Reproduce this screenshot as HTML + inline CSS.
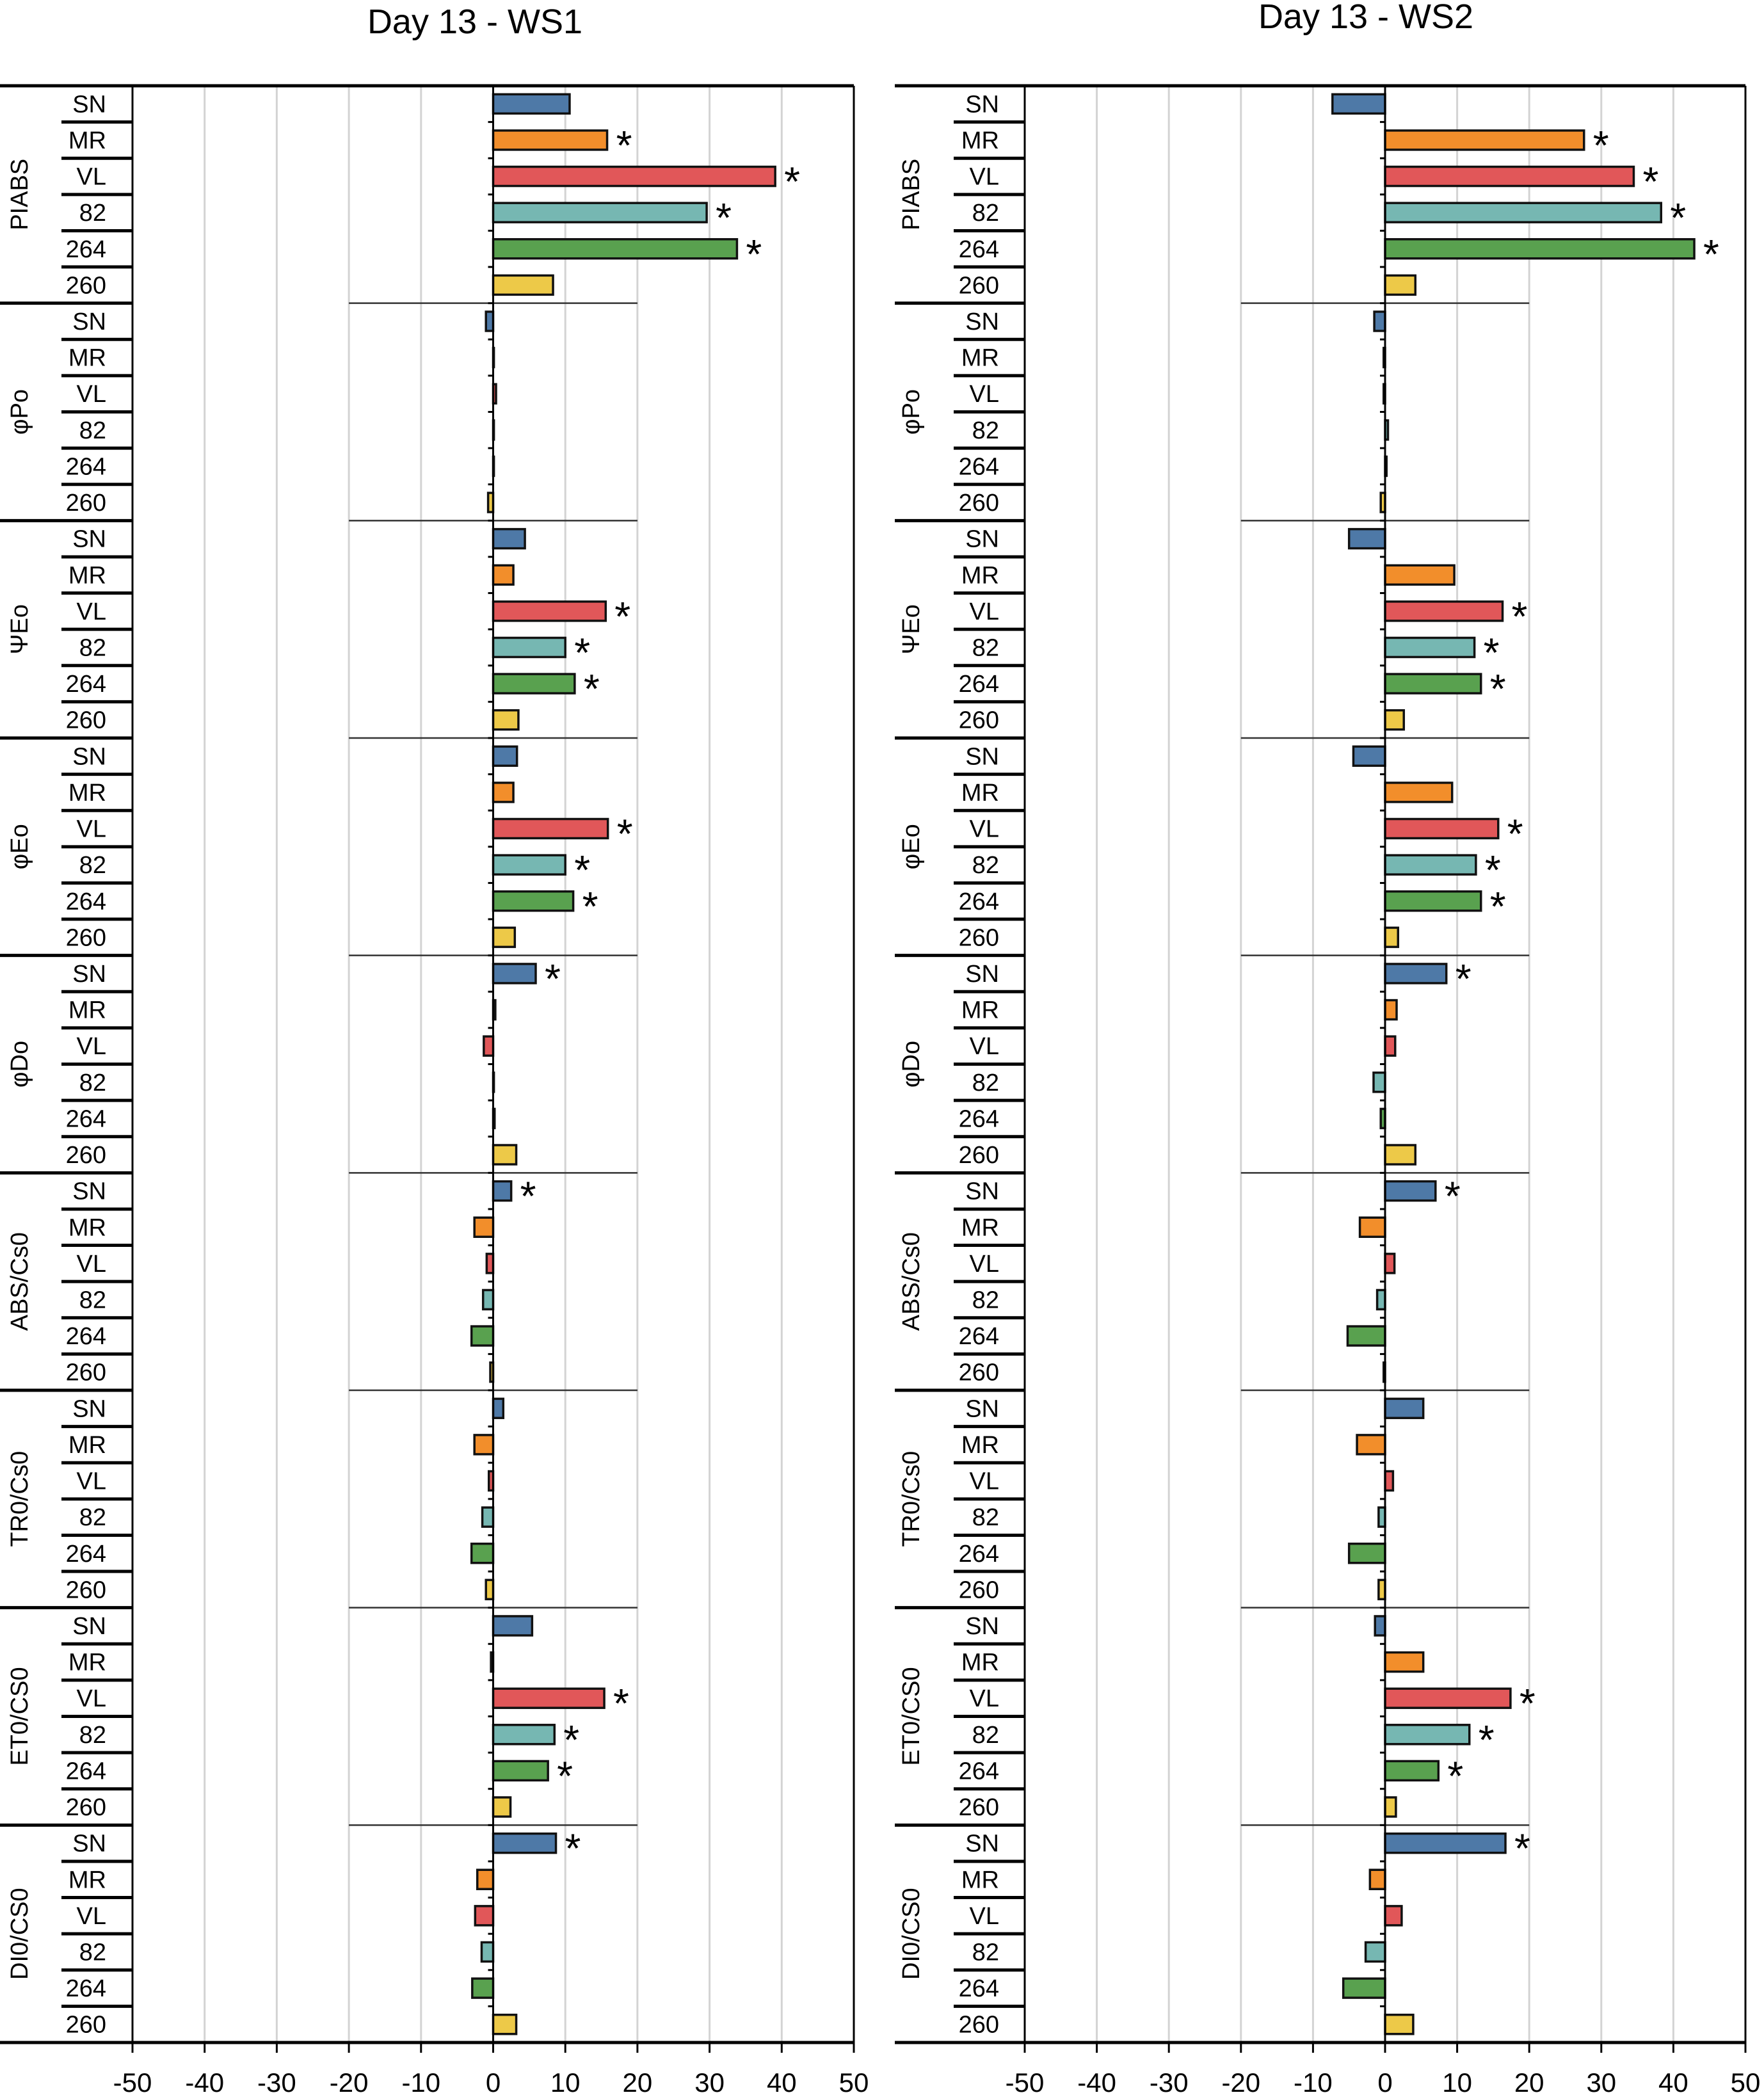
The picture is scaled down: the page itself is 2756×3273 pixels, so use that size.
<!DOCTYPE html>
<html><head><meta charset="utf-8">
<style>
html,body{margin:0;padding:0;background:#fff;}
svg{display:block;font-family:"Liberation Sans",Arial,sans-serif;}
</style></head>
<body>
<svg id="chart" width="2756" height="3273" viewBox="0 0 2756 3273" xmlns="http://www.w3.org/2000/svg">
<text x="742" y="52" font-size="54" text-anchor="middle">Day 13 - WS1</text>
<text x="2134" y="44" font-size="54" text-anchor="middle">Day 13 - WS2</text>
</svg>
<script>
const groups = ["PIABS","φPo","ΨEo","φEo","φDo","ABS/Cs0","TR0/Cs0","ET0/CS0","DI0/CS0"];
const rows = ["SN","MR","VL","82","264","260"];
const ticks = [-50,-40,-30,-20,-10,0,10,20,30,40,50];
const ws1Values = [
  [10.6,15.8,39.1,29.6,33.8,8.3],
  [-1,0.1,0.4,0.1,0.1,-0.7],
  [4.4,2.8,15.6,10,11.3,3.5],
  [3.3,2.8,15.9,10,11.1,3],
  [5.9,0.3,-1.3,0.1,0.2,3.2],
  [2.5,-2.6,-0.9,-1.4,-3,-0.4],
  [1.4,-2.6,-0.6,-1.5,-3,-1],
  [5.4,-0.3,15.4,8.5,7.6,2.4],
  [8.7,-2.2,-2.5,-1.6,-2.9,3.2]
];
const ws1Sig = [
  [0,1,1,1,1,0],[0,0,0,0,0,0],[0,0,1,1,1,0],[0,0,1,1,1,0],[1,0,0,0,0,0],
  [1,0,0,0,0,0],[0,0,0,0,0,0],[0,0,1,1,1,0],[1,0,0,0,0,0]
];
const ws2Values = [
  [-7.3,27.6,34.5,38.3,42.9,4.2],
  [-1.5,-0.2,-0.2,0.4,0.2,-0.6],
  [-5,9.6,16.3,12.4,13.3,2.6],
  [-4.4,9.3,15.7,12.6,13.3,1.8],
  [8.5,1.6,1.4,-1.6,-0.6,4.2],
  [7,-3.5,1.3,-1.1,-5.2,-0.2],
  [5.3,-3.9,1.1,-0.9,-5,-0.9],
  [-1.4,5.3,17.4,11.7,7.4,1.5],
  [16.7,-2.1,2.3,-2.7,-5.8,3.9]
];
const ws2Sig = [
  [0,1,1,1,1,0],[0,0,0,0,0,0],[0,0,1,1,1,0],[0,0,1,1,1,0],[1,0,0,0,0,0],
  [1,0,0,0,0,0],[0,0,0,0,0,0],[0,0,1,1,1,0],[1,0,0,0,0,0]
];
const colors = ["#4e79a7","#f28e2b","#e15759","#76b7b2","#59a14f","#edc948"];

const NS="http://www.w3.org/2000/svg";
const svg=document.getElementById('chart');
const TOP=134, BOT=3191, NROW=groups.length*rows.length, RH=(BOT-TOP)/NROW;
function mk(tag,attrs,parent){const e=document.createElementNS(NS,tag);for(const k in attrs)e.setAttribute(k,attrs[k]);(parent||svg).appendChild(e);return e;}

function panel(p){
  const g=mk('g',{});
  
  
  const x=v=>p.x0+(v+50)/100*(p.x1-p.x0);
  const y=i=>TOP+i*RH;
  ticks.forEach(t=>{ if(t===0||t===-50||t===50) return;
    const l=mk('line',{x1:x(t),x2:x(t),y1:TOP,y2:BOT,stroke:'#d3d3d3','stroke-width':3},g);
    
    
  });
  for(let k=1;k<groups.length;k++){
    const l=mk('line',{x1:x(-20),x2:x(20),y1:y(k*6),y2:y(k*6),stroke:'#333','stroke-width':2.5},g);
    
    
  }
  p.vals.forEach((gv,gi)=>gv.forEach((v,ri)=>{
    const i=gi*6+ri, cy=y(i)+RH/2;
    const xa=x(Math.min(0,v)), xb=x(Math.max(0,v));
    const r=mk('rect',{x:xa,y:cy-15,width:Math.max(xb-xa,1),height:30,fill:colors[ri],stroke:'#111','stroke-width':3.5},g);
    
    
    if(p.sig[gi][ri]){
      const s=mk('text',{x:xb+14,y:cy+30,'font-size':64},g);
      
      
      s.textContent='*';
    }
  }));
  const z=mk('line',{x1:x(0),x2:x(0),y1:TOP,y2:BOT,stroke:'#000','stroke-width':3},g);
  
  
  for(let i=1;i<NROW;i++){
    const t=mk('line',{x1:x(0)-8,x2:x(0),y1:y(i),y2:y(i),stroke:'#000','stroke-width':3},g);
    
    
  }
  mk('line',{x1:p.x0,x2:p.x0,y1:TOP,y2:BOT,stroke:'#000','stroke-width':3},g);
  mk('line',{x1:p.x1,x2:p.x1,y1:TOP,y2:BOT,stroke:'#000','stroke-width':3},g);
  mk('line',{x1:p.outer,x2:p.x1,y1:TOP,y2:TOP,stroke:'#000','stroke-width':5},g);
  mk('line',{x1:p.outer,x2:p.x1,y1:BOT,y2:BOT,stroke:'#000','stroke-width':5},g);
  for(let i=0;i<NROW;i++){
    const ri=i%6;
    if(i>0){
      const isG=ri===0;
      const l=mk('line',{x1:isG?p.outer:p.rowSep,x2:p.x0,y1:y(i),y2:y(i),stroke:'#000','stroke-width':5},g);
      
      
    }
    const t=mk('text',{x:p.lblX,y:y(i)+RH/2+13,'font-size':38,'text-anchor':'end'},g);
    
    
    t.textContent=rows[ri];
  }
  groups.forEach((gn,gi)=>{
    const cy=y(gi*6+3);
    const t=mk('text',{x:p.gX,y:cy,'font-size':38,'text-anchor':'middle',transform:`rotate(-90 ${p.gX} ${cy})`,'dominant-baseline':'middle'},g);
    
    
    t.textContent=gn;
  });
  ticks.forEach(tv=>{
    const l=mk('line',{x1:x(tv),x2:x(tv),y1:BOT,y2:BOT+16,stroke:'#000','stroke-width':3},g);
    
    
    const t=mk('text',{x:x(tv),y:3268,'font-size':42,'text-anchor':'middle'},g);
    
    
    t.textContent=tv;
  });
}
panel({name:'panel-ws1',x0:207,x1:1334,outer:0,rowSep:96,lblX:166,gX:33,vals:ws1Values,sig:ws1Sig});
panel({name:'panel-ws2',x0:1601,x1:2727,outer:1398,rowSep:1490,lblX:1561,gX:1426,vals:ws2Values,sig:ws2Sig});
</script>
</body></html>
